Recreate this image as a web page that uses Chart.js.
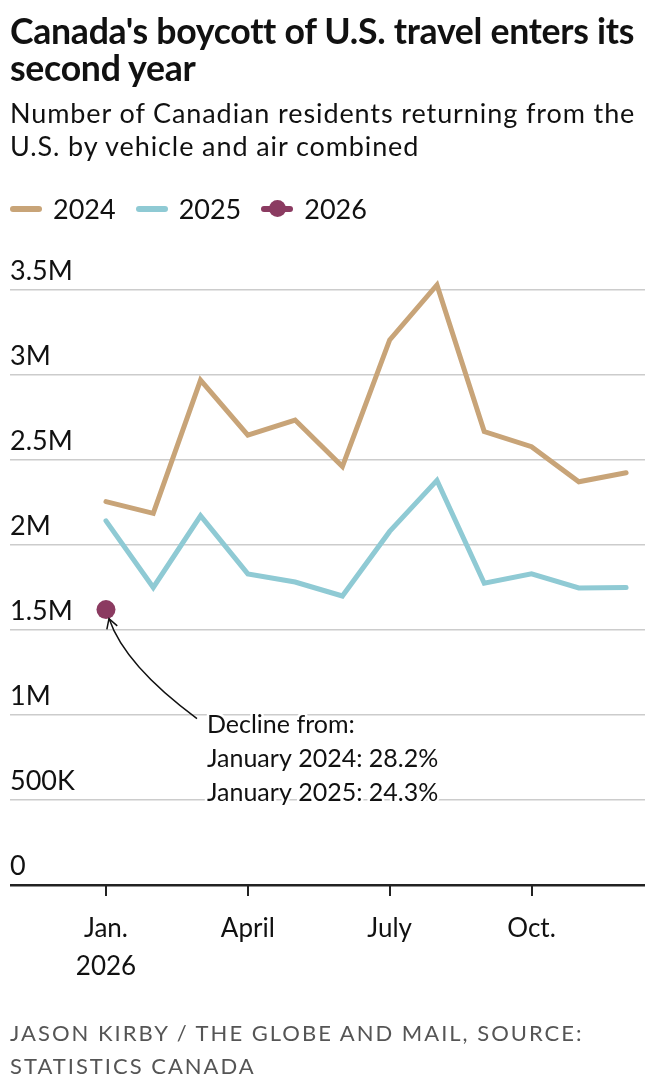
<!DOCTYPE html>
<html>
<head>
<meta charset="utf-8">
<script src="https://cdn.jsdelivr.net/npm/chart.js@4"></script>
<style>
  body { margin: 0; background: #fff; font-family: Lato, "Open Sans", sans-serif; color: #111; }
  #wrap { position: relative; width: 660px; height: 1090px; overflow: hidden; }
  #chart { position: absolute; left: 0; top: 0; }
  .txt { position: absolute; left: 10px; white-space: nowrap; transform-origin: left top; }
  #title { top: 12px; font-size: 36px; font-weight: 700; line-height: 37px; letter-spacing: -0.3px; transform: scaleX(0.99); }
  #subtitle { top: 96px; font-size: 27px; line-height: 33px; letter-spacing: 0.9px; }
  #legend { top: 192px; font-size: 27px; line-height: 34px; display: flex; align-items: center; }
  .sw { display: inline-block; width: 32px; height: 6px; border-radius: 3px; margin-right: 11px; position: relative; }
  .item { display: flex; align-items: center; margin-right: 20px; }
  .dot { position: absolute; left: 8px; top: -6px; width: 17px; height: 17px; border-radius: 50%; }
  #footer { top: 1016px; font-size: 22px; line-height: 33px; color: #555; letter-spacing: 2px; }
</style>
</head>
<body>
<div id="wrap">
  <canvas id="chart" width="660" height="1090"></canvas>
  <div class="txt" id="title">Canada's boycott of U.S. travel enters its<br>second year</div>
  <div class="txt" id="subtitle">Number of Canadian residents returning from the<br>U.S. by vehicle and air combined</div>
  <div class="txt" id="legend">
    <span class="item"><span class="sw" style="background:#c8a478"></span>2024</span>
    <span class="item"><span class="sw" style="background:#8fcad4"></span>2025</span>
    <span class="item"><span class="sw" style="background:#8b3b61"><span class="dot" style="background:#8b3b61"></span></span>2026</span>
  </div>
  <div class="txt" id="footer">JASON KIRBY / THE GLOBE AND MAIL, SOURCE:<br>STATISTICS CANADA</div>
</div>
<script>
// mois (index 0 = janvier)
const months = ["Jan", "Feb", "Mar", "Apr", "May", "Jun", "Jul", "Aug", "Sep", "Oct", "Nov", "Dec"];
const values2024 = [2255000, 2186000, 2970000, 2647000, 2735000, 2461000, 3206000, 3530000, 2667000, 2578000, 2372000, 2425000];
const values2025 = [2142000, 1750000, 2172000, 1830000, 1782000, 1700000, 2080000, 2380000, 1775000, 1830000, 1747000, 1750000];
const values2026 = [1620000];
const tickMonths = [0, 3, 6, 9];
const tickLabels = [["Jan.", "2026"], "April", "July", "Oct."];
const noteLines = ["Decline from:", "January 2024: 28.2%", "January 2025: 24.3%"];

const FONT = "Lato, 'Open Sans', sans-serif";

function toPoints(arr) {
  return arr.map((v, i) => ({ x: i, y: v }));
}

function formatY(v) {
  if (v === 0) return "0";
  if (v < 1000000) return v / 1000 + "K";
  return v / 1000000 + "M";
}

// label axe Y au-dessus des lignes
const yLabelsPlugin = {
  id: "yLabels",
  afterDraw(chart) {
    const ctx = chart.ctx;
    const y = chart.scales.y;
    ctx.save();
    ctx.font = "27px " + FONT;
    ctx.fillStyle = "#111";
    ctx.textAlign = "left";
    ctx.textBaseline = "alphabetic";
    y.ticks.forEach((t) => {
      ctx.fillText(formatY(t.value), 10, y.getPixelForValue(t.value) - 10);
    });
    ctx.restore();
  },
};

// fleche + texte d'annotation
const notePlugin = {
  id: "note",
  afterDatasetsDraw(chart) {
    const ctx = chart.ctx;
    const pt = chart.getDatasetMeta(2).data[0];
    const px = pt.x, py = pt.y;
    const sx = px + 3, sy = py + 9;
    const cx = px + 19, cy = py + 56;
    const ex = px + 91, ey = py + 109;
    ctx.save();
    ctx.strokeStyle = "#111";
    ctx.lineWidth = 1.5;
    ctx.beginPath();
    ctx.moveTo(sx, sy);
    ctx.quadraticCurveTo(cx, cy, ex, ey);
    ctx.stroke();
    // pointe
    let dx = cx - sx, dy = cy - sy;
    const len = Math.hypot(dx, dy);
    dx /= len; dy /= len;
    const a = Math.PI / 6, L = 11;
    ctx.beginPath();
    ctx.moveTo(sx + L * (dx * Math.cos(a) - dy * Math.sin(a)), sy + L * (dx * Math.sin(a) + dy * Math.cos(a)));
    ctx.lineTo(sx, sy);
    ctx.lineTo(sx + L * (dx * Math.cos(-a) - dy * Math.sin(-a)), sy + L * (dx * Math.sin(-a) + dy * Math.cos(-a)));
    ctx.stroke();

    ctx.font = "25px " + FONT;
    ctx.textAlign = "left";
    ctx.textBaseline = "alphabetic";
    ctx.lineJoin = "round";
    noteLines.forEach((line, i) => {
      const ty = py + 123 + i * 34;
      ctx.strokeStyle = "#fff";
      ctx.lineWidth = 5;
      ctx.strokeText(line, px + 101, ty);
      ctx.fillStyle = "#111";
      ctx.fillText(line, px + 101, ty);
    });
    ctx.restore();
  },
};

new Chart(document.getElementById("chart"), {
  type: "line",
  data: {
    datasets: [
      {
        label: "2024",
        data: toPoints(values2024),
        borderColor: "#c8a478",
        borderWidth: 5,
        pointRadius: 0,
        borderCapStyle: "round",
        clip: false,
      },
      {
        label: "2025",
        data: toPoints(values2025),
        borderColor: "#8fcad4",
        borderWidth: 5,
        pointRadius: 0,
        borderCapStyle: "round",
        clip: false,
      },
      {
        label: "2026",
        data: toPoints(values2026),
        showLine: false,
        pointRadius: 9.5,
        pointBackgroundColor: "#8b3b61",
        pointBorderWidth: 0,
        clip: false,
      },
    ],
  },
  options: {
    responsive: false,
    animation: false,
    devicePixelRatio: 1,
    layout: { padding: { top: 290, left: 10, right: 15, bottom: 105 } },
    plugins: { legend: { display: false }, tooltip: { enabled: false } },
    scales: {
      x: {
        type: "linear",
        min: -2.03,
        max: 11.4,
        afterBuildTicks: (s) => {
          s.ticks = tickMonths.map((v) => ({ value: v }));
        },
        afterFit: (s) => {
          s.height = 100;
        },
        ticks: {
          autoSkip: false,
          maxRotation: 0,
          padding: 14,
          color: "#111",
          font: { family: FONT, size: 26, lineHeight: 1.45 },
          callback: (v) => tickLabels[tickMonths.indexOf(v)],
        },
        grid: { drawOnChartArea: false, drawTicks: true, tickLength: 11, color: "#222", lineWidth: 2 },
        border: { display: false },
      },
      y: {
        min: 0,
        max: 3500000,
        ticks: { display: false, stepSize: 500000 },
        afterFit: (s) => {
          s.width = 0;
        },
        grid: {
          drawTicks: false,
          color: (c) => (c.tick && c.tick.value === 0 ? "#222" : "#cccccc"),
          lineWidth: (c) => (c.tick && c.tick.value === 0 ? 2.5 : 1.5),
        },
        border: { display: false },
      },
    },
  },
  plugins: [yLabelsPlugin, notePlugin],
});
</script>
</body>
</html>
